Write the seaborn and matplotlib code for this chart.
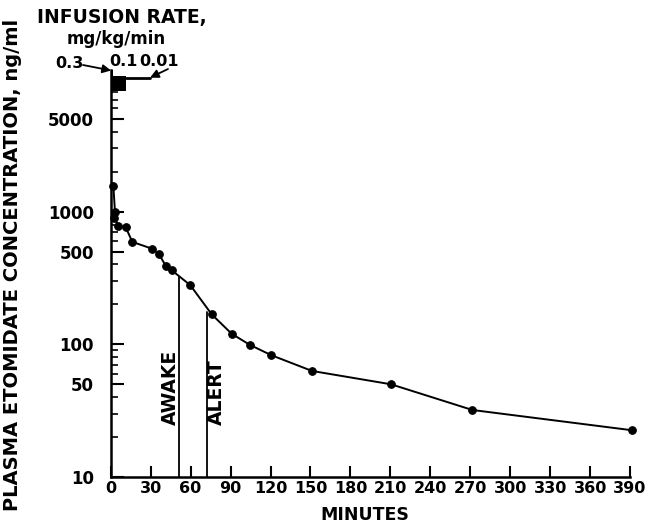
import matplotlib
matplotlib.use("Agg")
import matplotlib.pyplot as plt
import matplotlib.ticker as mticker
import pandas as pd
import seaborn as sns

# plasma etomidate concentration vs time
minutes = [2, 3.2, 2.6, 5.7, 11.3, 16.2, 30.8, 36, 41.5, 45.8, 59.8, 75.9,
           90.9, 104.6, 120.4, 151.2, 210.5, 271.6, 391.7]
conc = [1550, 1000, 900, 785, 762, 592, 527, 483, 388, 362, 279, 168,
        120, 99, 83, 63, 50, 32, 22.5]

# clinical events (minute, concentration where the line meets the curve)
events = ["AWAKE", "ALERT"]
event_min = [51.3, 72.1]
event_conc = [320, 174]
event_text_offset = [-6.5, 7.5]

# infusion schedule drawn above the curve
rate_labels = ["0.3", "0.1", "0.01"]
rate_start = [0, 0, 11.5]
rate_end = [2, 11.5, 29.5]

x_ticks = list(range(0, 391, 30))
y_ticks = [10, 50, 100, 500, 1000, 5000]

sns.set_style("ticks")
plt.rcParams['font.family'] = ['DejaVu Sans']
plt.rcParams['font.weight'] = 'bold'
for k in ['text.color', 'axes.labelcolor', 'xtick.color', 'ytick.color',
          'axes.edgecolor']:
    plt.rcParams[k] = 'black'

df = pd.DataFrame({"minutes": minutes, "conc": conc})

fig = plt.figure(figsize=(6.49, 5.24), dpi=100)
ax = fig.add_axes([0.1706, 0.0897, 0.8002, 0.7767])

sns.lineplot(data=df, x="minutes", y="conc", sort=False, marker="o",
             color="black", lw=1.4, markersize=5.5, markeredgecolor="black",
             ax=ax, clip_on=False)

ax.set_yscale("log")
ax.set_xlim(0, 390)
ax.set_ylim(10, 11700)

# awake / alert markers
for name, m, c, off in zip(events, event_min, event_conc, event_text_offset):
    ax.plot([m, m], [10, c], color="black", lw=1.3)
    ax.text(m + off, 24.5, name, rotation=90, ha="center", va="bottom",
            fontsize=13.5, fontweight="bold")

# infusion rate bars
ax.fill_between([rate_start[0], rate_end[0]], 8130, 11700, color="black", lw=0)
ax.fill_between([rate_start[1], rate_end[1]], 8130, 10550, color="black", lw=0)
ax.plot([rate_start[2], rate_end[2]], [10240, 10240], color="black", lw=2)

arrow = dict(arrowstyle="-|>,head_length=0.5,head_width=0.25", color="black",
             lw=1.3, shrinkA=0, shrinkB=0)
fig.text(55 / 649, 1 - 63 / 524, rate_labels[0], fontsize=11.5,
         fontweight="bold", va="center")
ax.annotate("", xy=(0.3, 11600), xycoords="data",
            xytext=(83, 524 - 65), textcoords="figure pixels",
            arrowprops=arrow, annotation_clip=False)
fig.text(109 / 649, 1 - 62 / 524, rate_labels[1], fontsize=11.5,
         fontweight="bold", va="center")
fig.text(139 / 649, 1 - 62 / 524, rate_labels[2], fontsize=11.5,
         fontweight="bold", va="center")
ax.annotate("", xy=(rate_end[2], 10240), xycoords="data",
            xytext=(168, 524 - 69), textcoords="figure pixels",
            arrowprops=arrow, annotation_clip=False)

fig.text(122 / 649, 1 - 18 / 524, "INFUSION RATE,", fontsize=13.5,
         fontweight="bold", ha="center", va="center")
fig.text(116 / 649, 1 - 39 / 524, "mg/kg/min", fontsize=12,
         fontweight="bold", ha="center", va="center")

# axes styling
ax.yaxis.set_major_locator(mticker.FixedLocator(y_ticks))
ax.yaxis.set_major_formatter(mticker.FixedFormatter([str(v) for v in y_ticks]))
ax.yaxis.set_minor_locator(mticker.LogLocator(base=10, subs=range(2, 10)))
ax.yaxis.set_minor_formatter(mticker.NullFormatter())
ax.set_xticks(x_ticks)
ax.set_xticklabels([str(v) for v in x_ticks])

ax.tick_params(axis="y", which="major", direction="in", length=9, width=1.5,
               labelsize=12, pad=12)
ax.tick_params(axis="y", which="minor", direction="in", length=5, width=1.2)
ax.tick_params(axis="x", which="major", direction="in", length=8, width=1.5,
               labelsize=11.5, pad=3)

sns.despine(ax=ax)
for s in ["left", "bottom"]:
    ax.spines[s].set_linewidth(1.8)

ax.set_xlabel("MINUTES", fontsize=12.5, fontweight="bold")
ax.xaxis.set_label_coords(0.49, -0.072)
ax.set_ylabel("PLASMA ETOMIDATE CONCENTRATION, ng/ml", fontsize=14,
              fontweight="bold")
ax.yaxis.set_label_coords(-0.171, 0.52)

fig.savefig("out.png", dpi=100)
